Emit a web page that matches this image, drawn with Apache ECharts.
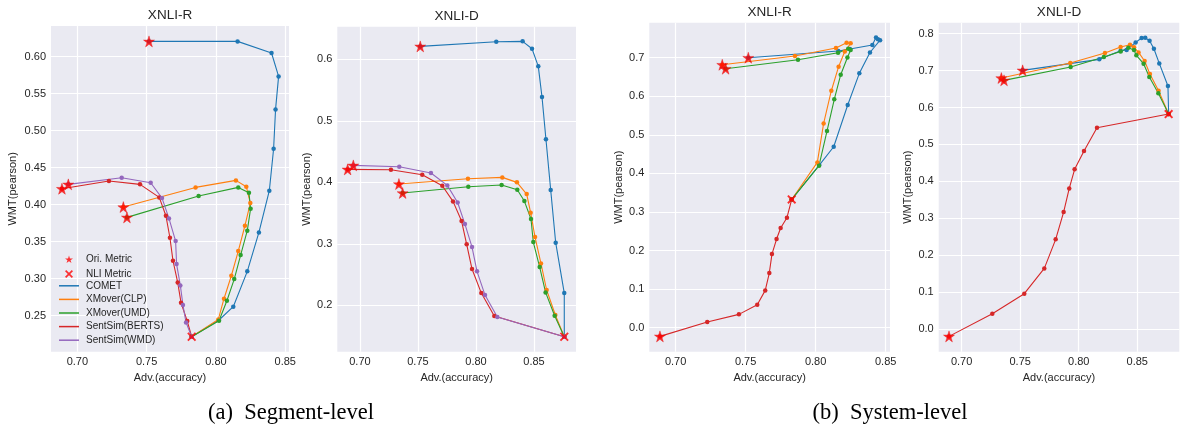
<!DOCTYPE html>
<html>
<head>
<meta charset="utf-8">
<script src="https://cdn.jsdelivr.net/npm/echarts@6/dist/echarts.min.js"></script>
<style>html,body{margin:0;padding:0;background:#fff;}#c{width:1184px;height:435px;}</style>
</head>
<body>
<div id="c"></div>
<script>
// ---------- data ----------
const seriesNames = ['COMET', 'XMover(CLP)', 'XMover(UMD)', 'SentSim(BERTS)', 'SentSim(WMD)'];
const panelTitles = ['XNLI-R', 'XNLI-D', 'XNLI-R', 'XNLI-D'];
const captions = ['(a)  Segment-level', '(b)  System-level'];
const xTicks = [0.70, 0.75, 0.80, 0.85];
const yTicksSegR = [0.25, 0.30, 0.35, 0.40, 0.45, 0.50, 0.55, 0.60];
const yTicksSegD = [0.2, 0.3, 0.4, 0.5, 0.6];
const yTicksSysR = [0.0, 0.1, 0.2, 0.3, 0.4, 0.5, 0.6, 0.7];
const yTicksSysD = [0.0, 0.1, 0.2, 0.3, 0.4, 0.5, 0.6, 0.7, 0.8];

// Segment-level, XNLI-R (first point = original metric, last = NLI metric)
const segR_COMET = [[0.7517,0.6207],[0.8156,0.6207],[0.8401,0.605],[0.8452,0.5734],[0.843,0.5288],[0.8416,0.4757],[0.8385,0.4189],[0.831,0.3626],[0.8226,0.31],[0.8125,0.2622],[0.8022,0.2442],[0.7825,0.2216]];
const segR_CLP = [[0.7332,0.3968],[0.7853,0.4234],[0.8144,0.4329],[0.8219,0.4243],[0.8248,0.4023],[0.8209,0.3716],[0.8161,0.3374],[0.8111,0.304],[0.8058,0.273],[0.8017,0.245],[0.7825,0.2216]];
const segR_UMD = [[0.7358,0.3829],[0.7875,0.4117],[0.8161,0.4234],[0.8238,0.4162],[0.825,0.3946],[0.8226,0.3649],[0.8178,0.332],[0.8132,0.2995],[0.8079,0.2703],[0.8022,0.2432],[0.7825,0.2216]];
const segR_BERTS = [[0.6889,0.4216],[0.7228,0.432],[0.7452,0.4275],[0.7591,0.4099],[0.7639,0.3851],[0.7668,0.3554],[0.769,0.3243],[0.7724,0.295],[0.7748,0.2676],[0.7793,0.2428],[0.7825,0.2216]];
const segR_WMD = [[0.6935,0.4275],[0.732,0.4365],[0.7529,0.4297],[0.7611,0.409],[0.7661,0.3815],[0.7709,0.3509],[0.7716,0.3198],[0.7743,0.291],[0.7762,0.2644],[0.7784,0.241],[0.7825,0.2216]];

// Segment-level, XNLI-D
const segD_COMET = [[0.752,0.6211],[0.8175,0.6287],[0.8402,0.6293],[0.8483,0.6173],[0.8537,0.5886],[0.8569,0.5388],[0.8603,0.47],[0.8644,0.3875],[0.8687,0.3019],[0.8761,0.22],[0.8761,0.149]];
const segD_CLP = [[0.7336,0.3973],[0.7931,0.406],[0.8227,0.4081],[0.8353,0.4],[0.8437,0.381],[0.8471,0.3507],[0.8509,0.3111],[0.856,0.2683],[0.8609,0.225],[0.8684,0.1843],[0.8761,0.149]];
const segD_UMD = [[0.7368,0.3827],[0.7934,0.393],[0.8221,0.3957],[0.8356,0.3881],[0.8417,0.3696],[0.8474,0.3404],[0.8494,0.303],[0.8549,0.2623],[0.86,0.2211],[0.8678,0.1832],[0.8761,0.149]];
const segD_BERTS = [[0.6894,0.4211],[0.7267,0.4206],[0.7537,0.4125],[0.771,0.3946],[0.7802,0.3691],[0.7876,0.3371],[0.792,0.2992],[0.7966,0.2591],[0.8046,0.22],[0.8158,0.1827],[0.8761,0.149]];
const segD_WMD = [[0.6943,0.4276],[0.7339,0.4255],[0.7612,0.4152],[0.7753,0.3951],[0.7842,0.3672],[0.7905,0.3322],[0.7966,0.2948],[0.8009,0.2553],[0.8078,0.2168],[0.8184,0.181],[0.8761,0.149]];

// System-level, XNLI-R
const sysR_COMET = [[0.7519,0.70],[0.8162,0.7173],[0.8245,0.7225],[0.8405,0.7328],[0.8431,0.7527],[0.8445,0.748],[0.846,0.7455],[0.8388,0.7135],[0.8312,0.6594],[0.8229,0.5773],[0.8129,0.4692],[0.8026,0.4217],[0.7829,0.3325]];
const sysR_CLP = [[0.7333,0.6818],[0.7852,0.7043],[0.8145,0.7251],[0.8221,0.7385],[0.825,0.7372],[0.8208,0.716],[0.8164,0.6767],[0.8112,0.6144],[0.8057,0.5297],[0.8012,0.4286],[0.7829,0.3325]];
const sysR_UMD = [[0.7357,0.6715],[0.7874,0.6948],[0.816,0.713],[0.8233,0.7233],[0.825,0.7199],[0.8227,0.7005],[0.8179,0.6559],[0.8133,0.592],[0.8081,0.5099],[0.8024,0.42],[0.7829,0.3325]];
const sysR_BERTS = [[0.6888,-0.0226],[0.7226,0.0146],[0.7452,0.0345],[0.7583,0.0595],[0.764,0.0967],[0.7669,0.1417],[0.7688,0.1909],[0.7721,0.2298],[0.775,0.2583],[0.7795,0.2851],[0.7829,0.3325]];

// System-level, XNLI-D
const sysD_COMET = [[0.7521,0.7007],[0.8176,0.7305],[0.8358,0.754],[0.8409,0.7558],[0.8486,0.7765],[0.8537,0.7883],[0.8568,0.7892],[0.8605,0.781],[0.8642,0.7594],[0.8688,0.7196],[0.8762,0.6582],[0.8768,0.5824]];
const sysD_CLP = [[0.7339,0.6799],[0.7928,0.7205],[0.8224,0.7476],[0.8358,0.7639],[0.8438,0.7702],[0.8472,0.763],[0.8511,0.7494],[0.8563,0.726],[0.8608,0.6907],[0.8682,0.6456],[0.8768,0.5824]];
const sysD_UMD = [[0.7362,0.6736],[0.7931,0.7097],[0.8215,0.7368],[0.8358,0.7521],[0.8423,0.7621],[0.8472,0.7558],[0.8492,0.7413],[0.8554,0.7187],[0.8603,0.6826],[0.868,0.6384],[0.8768,0.5824]];
const sysD_BERTS = [[0.6892,-0.0199],[0.7262,0.0415],[0.7535,0.0957],[0.7706,0.1643],[0.7803,0.2429],[0.7871,0.3169],[0.7919,0.381],[0.7965,0.4325],[0.8045,0.4822],[0.8156,0.5454],[0.8768,0.5824]];

// ---------- styling / layout ----------
const colors = ['#1f77b4', '#ff7f0e', '#2ca02c', '#d62728', '#9467bd'];
const panels = [
  { lines: [segR_COMET, segR_CLP, segR_UMD, segR_BERTS, segR_WMD], yTicks: yTicksSegR, yDec: 2,
    grid: {left: 51, top: 26, width: 238, height: 325.7}, x: [0.681, 0.8527], y: [0.2014, 0.6415], nameGap: 32.5, titleY: 8 },
  { lines: [segD_COMET, segD_CLP, segD_UMD, segD_BERTS, segD_WMD], yTicks: yTicksSegD, yDec: 1,
    grid: {left: 337.3, top: 26.7, width: 238.7, height: 325}, x: [0.6805, 0.8862], y: [0.1247, 0.6531], nameGap: 25, titleY: 9 },
  { lines: [sysR_COMET, sysR_CLP, sysR_UMD, sysR_BERTS], yTicks: yTicksSysR, yDec: 1,
    grid: {left: 649.3, top: 22.7, width: 240.7, height: 329}, x: [0.6812, 0.8531], y: [-0.0623, 0.7908], nameGap: 25.3, titleY: 4.8 },
  { lines: [sysD_COMET, sysD_CLP, sysD_UMD, sysD_BERTS], yTicks: yTicksSysD, yDec: 1,
    grid: {left: 938.7, top: 22.7, width: 240.6, height: 329}, x: [0.6804, 0.8859], y: [-0.0614, 0.8298], nameGap: 25, titleY: 4.8 }
];

const starPath = 'path://M0,-100L22.45,-30.9L95.1,-30.9L36.3,11.8L58.8,80.9L0,38.2L-58.8,80.9L-36.3,11.8L-95.1,-30.9L-22.45,-30.9Z';
const xPath = 'path://M-100,-70L-70,-100L0,-30L70,-100L100,-70L30,0L100,70L70,100L0,30L-70,100L-100,70L-30,0Z';
const FONT = '"Liberation Sans", Arial, sans-serif';
const TXT = '#262626';

const grids = [], xAxes = [], yAxes = [], series = [], titles = [];
panels.forEach((p, i) => {
  grids.push(Object.assign({show: true, backgroundColor: '#eaeaf2', borderWidth: 0, containLabel: false}, p.grid));
  xAxes.push({
    type: 'value', gridIndex: i, min: p.x[0], max: p.x[1],
    name: 'Adv.(accuracy)', nameLocation: 'middle', nameGap: 18,
    nameTextStyle: {fontFamily: FONT, fontSize: 11, color: TXT},
    axisLine: {show: false}, axisTick: {show: false, customValues: xTicks},
    axisLabel: {customValues: xTicks, formatter: v => v.toFixed(2), fontFamily: FONT, fontSize: 11, color: TXT, margin: 5},
    splitLine: {show: true, lineStyle: {color: '#ffffff', width: 1.2}}
  });
  yAxes.push({
    type: 'value', gridIndex: i, min: p.y[0], max: p.y[1],
    name: 'WMT(pearson)', nameLocation: 'middle', nameGap: p.nameGap, nameRotate: 90,
    nameTextStyle: {fontFamily: FONT, fontSize: 11, color: TXT},
    axisLine: {show: false}, axisTick: {show: false, customValues: p.yTicks},
    axisLabel: {customValues: p.yTicks, formatter: v => v.toFixed(p.yDec), fontFamily: FONT, fontSize: 11, color: TXT, margin: 5},
    splitLine: {show: true, lineStyle: {color: '#ffffff', width: 1.2}}
  });
  p.lines.forEach((d, k) => {
    series.push({
      type: 'line', name: seriesNames[k], xAxisIndex: i, yAxisIndex: i, data: d,
      color: colors[k], symbol: 'circle', symbolSize: 4.5, showSymbol: true,
      lineStyle: {width: 1.1, color: colors[k]}, itemStyle: {color: colors[k]},
      animation: false, z: 2
    });
  });
  series.push({
    type: 'scatter', name: 'Ori. Metric', xAxisIndex: i, yAxisIndex: i,
    data: p.lines.map(d => d[0]), symbol: starPath, symbolSize: 11,
    itemStyle: {color: '#ff0000', borderColor: '#e01010', borderWidth: 0.5}, animation: false, z: 5
  });
  series.push({
    type: 'scatter', name: 'NLI Metric', xAxisIndex: i, yAxisIndex: i,
    data: [p.lines[0][p.lines[0].length - 1]], symbol: xPath, symbolSize: 9,
    itemStyle: {color: '#ff0000'}, animation: false, z: 5
  });
  titles.push({
    text: panelTitles[i], left: p.grid.left + p.grid.width / 2, top: p.titleY, textAlign: 'center', padding: 0,
    textStyle: {fontFamily: FONT, fontSize: 13.5, fontWeight: 'normal', color: TXT}
  });
});
const SERIF = '"Liberation Serif", "Times New Roman", serif';
titles.push({text: captions[0], left: 291, top: 401.5, textAlign: 'center', padding: 0,
  textStyle: {fontFamily: SERIF, fontSize: 22.5, fontWeight: 'normal', color: '#000'}});
titles.push({text: captions[1], left: 890, top: 401.5, textAlign: 'center', padding: 0,
  textStyle: {fontFamily: SERIF, fontSize: 22.5, fontWeight: 'normal', color: '#000'}});

const option = {
  animation: false,
  title: titles,
  grid: grids,
  xAxis: xAxes,
  yAxis: yAxes,
  legend: [
    {
      data: [
        {name: 'Ori. Metric', icon: starPath, itemStyle: {color: '#ff0000', borderWidth: 0}},
        {name: 'NLI Metric', icon: xPath, itemStyle: {color: '#ff0000', borderWidth: 0}}
      ],
      orient: 'vertical', left: 65, top: 254.3, padding: 0,
      itemWidth: 8, itemHeight: 8, itemGap: 4.7, selectedMode: false,
      textStyle: {fontFamily: FONT, fontSize: 10, color: TXT, padding: [0, 0, 0, 8]}
    },
    {
      data: seriesNames, orient: 'vertical', left: 59, top: 280.8, icon: 'rect', padding: 0,
      itemWidth: 20, itemHeight: 1.5, itemGap: 3.6, selectedMode: false,
      textStyle: {fontFamily: FONT, fontSize: 10, color: TXT, padding: [0, 0, 0, 2]}
    }
  ],
  series: series
};
const chart = echarts.init(document.getElementById('c'), null, {renderer: 'canvas'});
chart.setOption(option);
</script>
</body>
</html>
